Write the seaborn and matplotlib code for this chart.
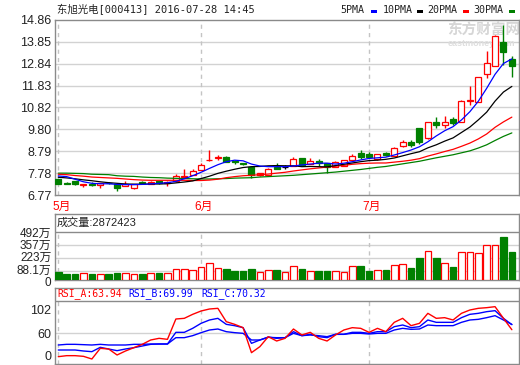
import numpy as np
import matplotlib
matplotlib.use("Agg")
import matplotlib.pyplot as plt
import seaborn as sns
from matplotlib.patches import Rectangle
from matplotlib.transforms import ScaledTranslation

sns.set_style("white")
plt.rcParams['font.family'] = ['Liberation Sans', 'Noto Sans CJK SC', 'DejaVu Sans']
MONO = ['DejaVu Sans Mono', 'Noto Sans CJK SC']

# ---------------- data ----------------
title = "东旭光电[000413] 2016-07-28 14:45"
opens = [7.51, 7.33, 7.40, 7.22, 7.29, 7.25, 7.34, 7.26, 7.19, 7.11,
         7.35, 7.29, 7.40, 7.33, 7.40, 7.60, 7.70, 7.93, 8.38, 8.49,
         8.54, 8.34, 8.24, 8.05, 7.68, 7.70, 8.08, 8.07, 8.11, 8.47,
         8.20, 8.34, 8.24, 8.08, 8.11, 8.40, 8.72, 8.65, 8.43, 8.69,
         8.57, 9.03, 9.23, 9.85, 9.39, 10.16, 10.01, 10.27, 10.16, 11.10,
         11.08, 12.35, 12.75, 13.83, 13.04]
highs = [7.53, 7.36, 7.42, 7.30, 7.36, 7.33, 7.36, 7.32, 7.40, 7.27,
         7.40, 7.40, 7.44, 7.40, 7.74, 7.97, 7.95, 8.24, 8.85, 8.62,
         8.56, 8.37, 8.27, 8.07, 7.80, 8.02, 8.25, 8.17, 8.54, 8.49,
         8.49, 8.43, 8.26, 8.33, 8.41, 8.65, 8.85, 8.76, 8.67, 8.76,
         9.00, 9.31, 9.31, 9.87, 10.15, 10.36, 10.42, 10.39, 11.14, 11.81,
         12.23, 13.44, 14.16, 14.63, 13.20]
lows = [7.27, 7.28, 7.22, 7.14, 7.19, 7.08, 7.27, 6.97, 7.17, 7.07,
        7.28, 7.27, 7.30, 7.19, 7.38, 7.58, 7.68, 7.91, 8.36, 8.39,
        8.30, 8.19, 8.17, 7.54, 7.66, 7.68, 7.95, 7.98, 8.09, 8.14,
        8.18, 8.11, 7.77, 8.06, 8.09, 8.38, 8.43, 8.50, 8.41, 8.58,
        8.55, 9.01, 9.00, 9.12, 9.37, 9.85, 9.85, 10.01, 10.14, 10.93,
        11.06, 12.17, 12.73, 12.78, 12.21]
closes = [7.29, 7.30, 7.29, 7.29, 7.23, 7.32, 7.31, 7.11, 7.26, 7.26,
          7.33, 7.36, 7.34, 7.38, 7.65, 7.66, 7.89, 8.16, 8.40, 8.52,
          8.31, 8.28, 8.19, 7.69, 7.77, 7.98, 7.96, 8.07, 8.43, 8.16,
          8.36, 8.23, 8.05, 8.31, 8.39, 8.55, 8.54, 8.54, 8.65, 8.62,
          8.93, 9.23, 9.08, 9.20, 10.13, 10.01, 10.16, 10.11, 11.12, 11.14,
          12.21, 12.86, 14.12, 13.40, 12.73]
ma5 = [7.65, 7.62, 7.50, 7.38, 7.31, 7.29, 7.29, 7.26, 7.25, 7.25,
       7.26, 7.28, 7.31, 7.34, 7.40, 7.52, 7.66, 7.82, 8.00, 8.17,
       8.31, 8.38, 8.35, 8.20, 8.11, 8.08, 8.08, 8.08, 8.11, 8.16,
       8.20, 8.24, 8.24, 8.20, 8.24, 8.31, 8.39, 8.46, 8.49, 8.52,
       8.62, 8.73, 8.85, 9.00, 9.23, 9.50, 9.74, 9.93, 10.24, 10.62,
       11.10, 11.70, 12.35, 12.85, 13.06]
ma10 = [7.59, 7.56, 7.52, 7.47, 7.43, 7.38, 7.34, 7.31, 7.28, 7.27,
        7.27, 7.28, 7.28, 7.29, 7.33, 7.37, 7.42, 7.53, 7.64, 7.77,
        7.87, 7.96, 8.04, 8.08, 8.09, 8.12, 8.13, 8.12, 8.12, 8.08,
        8.09, 8.08, 8.07, 8.13, 8.19, 8.25, 8.31, 8.36, 8.38, 8.42,
        8.48, 8.58, 8.68, 8.77, 8.95, 9.09, 9.26, 9.41, 9.66, 9.91,
        10.24, 10.60, 11.11, 11.53, 11.79]
ma20 = [7.73, 7.71, 7.67, 7.64, 7.60, 7.58, 7.56, 7.54, 7.51, 7.48,
        7.46, 7.45, 7.45, 7.45, 7.45, 7.45, 7.44, 7.44, 7.46, 7.50,
        7.57, 7.62, 7.66, 7.68, 7.71, 7.74, 7.78, 7.82, 7.88, 7.93,
        7.98, 8.02, 8.06, 8.10, 8.14, 8.19, 8.22, 8.24, 8.25, 8.25,
        8.29, 8.33, 8.38, 8.45, 8.57, 8.67, 8.78, 8.88, 9.02, 9.17,
        9.36, 9.59, 9.90, 10.15, 10.37]
ma30 = [7.78, 7.78, 7.77, 7.76, 7.73, 7.72, 7.71, 7.66, 7.64, 7.63,
        7.60, 7.58, 7.57, 7.55, 7.54, 7.53, 7.52, 7.51, 7.51, 7.52,
        7.53, 7.55, 7.56, 7.57, 7.60, 7.62, 7.64, 7.66, 7.68, 7.71,
        7.74, 7.77, 7.80, 7.83, 7.87, 7.91, 7.95, 8.00, 8.05, 8.09,
        8.15, 8.21, 8.27, 8.33, 8.41, 8.49, 8.56, 8.63, 8.72, 8.81,
        8.94, 9.09, 9.29, 9.48, 9.64]
volume_wan = [85, 62, 62, 68, 62, 62, 62, 72, 68, 62,
              62, 72, 72, 68, 109, 109, 105, 133, 171, 120,
              109, 92, 92, 109, 85, 102, 102, 82, 140, 113,
              92, 92, 92, 92, 82, 140, 144, 92, 102, 102,
              154, 164, 123, 226, 297, 226, 174, 133, 287, 287,
              277, 359, 359, 441, 287]
rsi_a = [31.6, 32.8, 32.8, 32.0, 28.8, 41.6, 40.8, 33.6, 38.4, 42.4,
         46.4, 51.6, 53.6, 52.4, 76.8, 77.6, 82.4, 86.4, 88.8, 89.6,
         73.6, 70.4, 66.4, 36.4, 43.6, 55.6, 50.4, 53.6, 64.8, 57.6,
         60.8, 53.6, 50.4, 57.6, 63.6, 66.4, 65.6, 60.8, 65.6, 61.6,
         72.8, 77.6, 68.8, 71.6, 83.6, 77.6, 78.4, 75.6, 83.6, 87.6,
         89.6, 90.4, 91.6, 77.6, 63.94]
rsi_b = [39.6, 39.6, 39.6, 38.4, 37.6, 42.8, 40.8, 38.8, 40.8, 42.4,
         44.4, 46.4, 46.8, 46.8, 60.8, 60.8, 65.6, 71.6, 75.6, 77.6,
         70.4, 68.8, 66.4, 47.6, 51.6, 55.2, 53.6, 54.4, 61.6, 56.8,
         58.4, 55.6, 54.4, 58.4, 58.4, 60.8, 60.8, 59.6, 61.6, 61.6,
         67.6, 69.6, 66.4, 67.6, 75.6, 72.8, 72.8, 72.8, 78.4, 82.4,
         83.6, 85.6, 86.8, 77.6, 69.99]
rsi_c = [45.6, 46.4, 46.4, 46.0, 45.6, 46.4, 45.6, 45.6, 45.6, 46.4,
         46.4, 46.8, 46.8, 46.8, 54.4, 54.4, 56.8, 60.4, 63.6, 64.8,
         61.6, 60.4, 59.6, 51.6, 51.6, 54.8, 54.4, 54.4, 59.6, 56.8,
         57.6, 56.8, 55.6, 58.4, 58.4, 59.6, 59.6, 58.8, 59.6, 59.6,
         63.6, 65.6, 64.4, 64.8, 69.6, 68.8, 68.8, 68.8, 72.8, 75.6,
         76.4, 78.4, 80.8, 75.6, 70.32]
month_labels = ["5月", "6月", "7月"]
month_idx = [0, 17, 37]
price_ticks = [6.77, 7.78, 8.79, 9.80, 10.82, 11.83, 12.84, 13.85, 14.86]
price_tick_labels = ["6.77", "7.78", "8.79", "9.80", "10.82", "11.83", "12.84", "13.85", "14.86"]
vol_ticks = [0, 88.1, 223, 357, 492]
vol_tick_labels = ["0", "88.1万", "223万", "357万", "492万"]
rsi_ticks = [32.4, 60, 87.6]
rsi_tick_labels = ["0", "60", "102"]
vol_header = "成交量:2872423"
rsi_names = ["RSI_A:63.94", "RSI_B:69.99", "RSI_C:70.32"]
ma_names = ["5PMA", "10PMA", "20PMA", "30PMA"]

# ---------------- styling ----------------
RED, GREEN, BLUE, BLACK = "#ff0000", "#008000", "#0000ff", "#000000"
SPINE = "#8a8a8a"
GRID = "#d2d2d2"
DASH = "#c4c4c4"
TXT = "#222222"

W, H = 520, 365
fig = plt.figure(figsize=(W / 100, H / 100), dpi=100)
fig.patch.set_facecolor("white")


def rect(l, t, r, b):
    return [l / W, 1 - b / H, (r - l) / W, (b - t) / H]


ax_p = fig.add_axes(rect(55, 20, 519, 195))
ax_v = fig.add_axes(rect(55, 214, 519, 280))
ax_r = fig.add_axes(rect(55, 288, 519, 364))

n = len(closes)
x = np.arange(n)
o = np.array(opens); c = np.array(closes)
hi = np.array(highs); lo = np.array(lows)
XL = (-0.39, 54.85)

for ax in (ax_p, ax_v, ax_r):
    for s in ax.spines.values():
        s.set_color(SPINE)
        s.set_linewidth(1.0)
    ax.set_xticks([])
    ax.set_xlim(*XL)
    ax.tick_params(axis="y", length=0, pad=2.5, labelsize=9, labelcolor=TXT)
    ax.set_axisbelow(True)

# ---- price panel ----
ax_p.set_ylim(price_ticks[0], price_ticks[-1])
ax_p.set_yticks(price_ticks)
ax_p.set_yticklabels(price_tick_labels)
for t in price_ticks[1:-1]:
    ax_p.axhline(t, color=GRID, lw=1.0, zorder=0)
for m in month_idx:
    ax_p.axvline(m, color=DASH, lw=1.0, ls=(0, (3, 3)), zorder=0.5)

ax_p.text(447 / W, 1 - 30 / H, "东方财富网", transform=fig.transFigure,
          color="#d6d6d6", fontsize=10.5, fontweight="bold",
          family=['Noto Sans CJK SC'], va="center", ha="left", zorder=1)
ax_p.text(448 / W, 1 - 43 / H, "eastmoney.com", transform=fig.transFigure,
          color="#dedede", fontsize=6.5, fontweight="bold",
          va="center", ha="left", zorder=1)

cand_col = np.where(c > o, RED, np.where(c < o, GREEN, BLACK))
face_col = np.where(c > o, "white", np.where(c < o, GREEN, BLACK))
ax_p.vlines(x, lo, hi, colors=cand_col, lw=1.0, zorder=3)
ax_p.bar(x, np.abs(c - o), bottom=np.minimum(o, c), width=0.72,
         color=face_col, edgecolor=cand_col, linewidth=0.9, zorder=4)

for vals, col in zip((ma30, ma20, ma10, ma5), (GREEN, RED, BLACK, BLUE)):
    sns.lineplot(x=x, y=vals, ax=ax_p, color=col, linewidth=0.9, zorder=5)
ax_p.set_xlim(*XL)
ax_p.set_ylim(price_ticks[0], price_ticks[-1])

for m, lab in zip(month_idx, month_labels):
    ax_p.text(m + 0.35, -12 / 175, lab, transform=ax_p.get_xaxis_transform(),
              color=RED, fontsize=8.5, ha="center", va="center",
              family=['Liberation Sans', 'Noto Sans CJK SC'])

# ---- volume panel ----
VTOP = 492 + 18 * 492 / 48
ax_v.set_ylim(0, VTOP)
ax_v.set_yticks(vol_ticks)
ax_v.set_yticklabels(vol_tick_labels)
ax_v.tick_params(axis="y", labelsize=8.5)
for lbl, s in zip(ax_v.get_yticklabels(), (-1.0, 2.4, 1.5, 1.2, 0.0)):
    lbl.set_transform(lbl.get_transform() +
                      ScaledTranslation(0, s / 100, fig.dpi_scale_trans))
for t in vol_ticks[1:-1]:
    ax_v.axhline(t, color=GRID, lw=1.0, zorder=0)
ax_v.axhline(vol_ticks[-1], color=SPINE, lw=1.0, zorder=1)
for m in month_idx:
    ax_v.vlines(m, 0, vol_ticks[-1], color=DASH, lw=1.0, ls=(0, (3, 3)), zorder=0.5)
vcol = np.where(c >= o, RED, GREEN)
vface = np.where(c >= o, "white", GREEN)
ax_v.bar(x, volume_wan, width=0.78, color=vface, edgecolor=vcol, linewidth=0.9, zorder=3)
ax_v.text(57 / W, 1 - 223 / H, vol_header, transform=fig.transFigure,
          fontsize=8, color=TXT, va="center", ha="left",
          family=['Liberation Sans', 'Noto Sans CJK SC'])

# ---- RSI panel ----
RB, RT, RH = 22.8, 114.0, 98.4
ax_r.set_ylim(RB, RT)
ax_r.set_yticks(rsi_ticks)
ax_r.set_yticklabels(rsi_tick_labels)
ax_r.axhline(60, color=GRID, lw=1.0, zorder=0)
ax_r.axhline(RH, color=SPINE, lw=1.0, zorder=1)
for m in month_idx:
    ax_r.vlines(m, RB, RH, color=DASH, lw=1.0, ls=(0, (3, 3)), zorder=0.5)
for vals, col in zip((rsi_c, rsi_b, rsi_a), (BLUE, BLUE, RED)):
    sns.lineplot(x=x, y=vals, ax=ax_r, color=col, linewidth=1.0, zorder=4)
ax_r.set_xlim(*XL)
ax_r.set_ylim(RB, RT)
for xp, name, col in zip((57, 128, 201), rsi_names, (RED, BLUE, BLUE)):
    fig.text(xp / W, 1 - 294 / H, name, color=col, fontsize=7, family=MONO,
             va="center", ha="left")

# ---- title & legend ----
fig.text(57 / W, 1 - 10 / H, title, fontsize=7.5, family=MONO, color=TXT,
         va="center", ha="left")
for xp, name in zip((340, 383, 427, 473), ma_names):
    fig.text(xp / W, 1 - 10 / H, name, fontsize=7.2, family=MONO, color=TXT,
             va="center", ha="left")
for xp, col in zip((371, 417, 463, 509), (BLUE, BLACK, RED, GREEN)):
    fig.add_artist(Rectangle((xp / W, 1 - 12.5 / H), 6 / W, 2.5 / H,
                             transform=fig.transFigure, color=col, lw=0))

fig.savefig("out.png", dpi=100)
